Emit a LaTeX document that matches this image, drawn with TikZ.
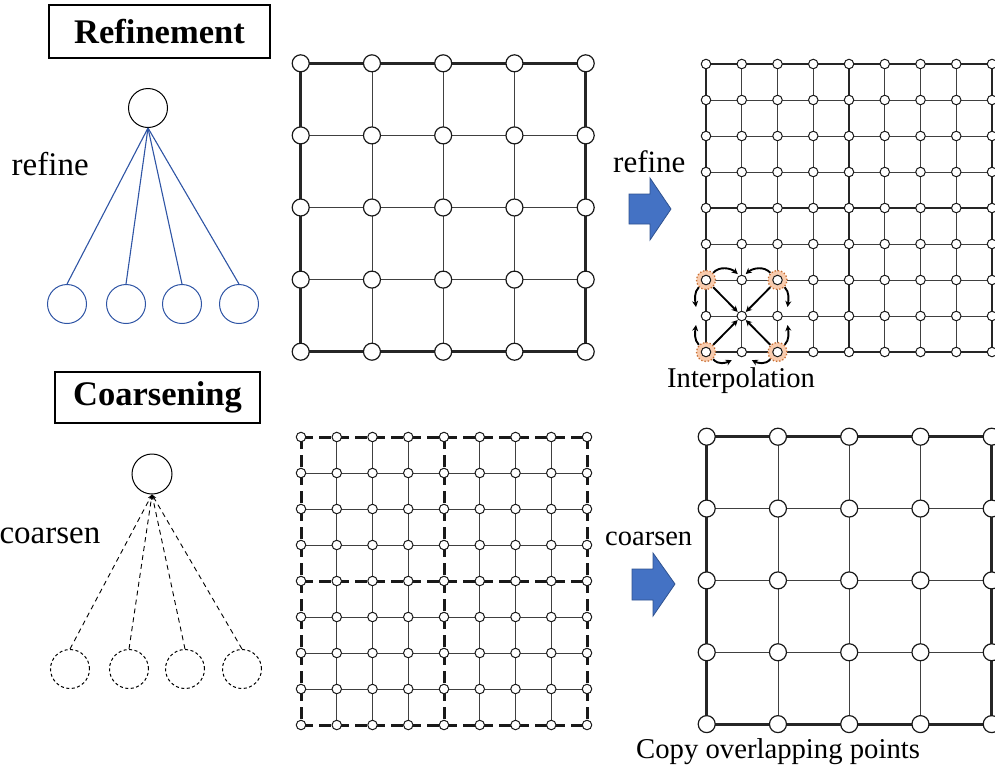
\documentclass[tikz,border=0pt]{standalone}
\usepackage{fontspec}
\setmainfont{Liberation Serif}
\usetikzlibrary{arrows.meta}
\definecolor{treeblue}{RGB}{47,85,165}
\definecolor{arrowfill}{RGB}{68,114,196}
\definecolor{arrowedge}{RGB}{47,82,143}
\definecolor{peach}{RGB}{248,203,173}
\definecolor{orangeedge}{RGB}{200,110,50}
\begin{document}
\begin{tikzpicture}[x=1pt,y=-1pt,
  bignode/.style={circle, draw=black!90, fill=white, line width=1.2pt, minimum size=17pt, inner sep=0pt},
  smallnode/.style={circle, draw=black!90, fill=white, line width=1pt, minimum size=9.5pt, inner sep=0pt},
  thickline/.style={line width=3pt, black!85},
  thinline/.style={line width=0.9pt, black!75},
  finethick/.style={line width=2.4pt, black!85},
  dashthick/.style={line width=3pt, black!90, dash pattern=on 12pt off 6pt},
  treecircle/.style={circle, draw, minimum size=39pt, inner sep=0pt, line width=1pt},
  titlebox/.style={draw, line width=2.5pt, inner sep=0pt, font=\fontsize{34.5}{40}\selectfont\bfseries},
  lbl/.style={inner sep=0pt},
  orangering/.style={circle, fill=peach, draw=orangeedge, dotted, line width=1.3pt, minimum size=19pt, inner sep=0pt},
  interp/.style={line width=1.9pt, black, -{Stealth[length=6pt,width=6pt]}},
  blockarrow/.style={fill=arrowfill, draw=arrowedge, line width=0.8pt}
]
\useasboundingbox (0,0) rectangle (995,772);

% ---------- title boxes ----------
\node[titlebox, minimum width=221pt, minimum height=53pt] (tref) at (159.5,31.5) {Refinement};
\node[titlebox, minimum width=205pt, minimum height=51pt] (tcoa) at (157.5,397.5) {Coarsening};

% ---------- refine tree ----------
\node[treecircle] (r1) at (148,108) {};
\foreach \k/\xx in {1/67,2/126,3/182,4/239}{
  \node[treecircle, draw=treeblue] (b\k) at (\xx,304) {};
  \draw[treeblue, line width=1.1pt] (r1.south) -- (b\k.north);
}
\node[lbl, anchor=base west, font=\fontsize{33}{38}\selectfont] (lref) at (11.5,175) {refine};

% ---------- coarsen tree ----------
\node[treecircle, minimum size=40pt] (r2) at (152,474) {};
\foreach \k/\xx in {1/70,2/129,3/185,4/242}{
  \node[treecircle, dash pattern=on 3pt off 2.5pt] (c\k) at (\xx,669) {};
  \draw[line width=0.9pt, dash pattern=on 5pt off 4pt, -{Stealth[length=5pt,width=4pt]}] (c\k.north) -- (r2.south);
}
\node[lbl, anchor=base east, font=\fontsize{33}{38}\selectfont] (lcoa) at (100.5,543) {coarsen};

% ---------- top middle coarse grid ----------
\foreach \i in {0,...,4}{\foreach \j in {0,...,4}{
  \coordinate (a-\i-\j) at (300.7+71.25*\i, 63.3+72.1*\j);}}
\foreach \j in {1,2,3}{
  \draw[thinline] (a-0-\j) -- (a-4-\j);
  \draw[thinline] (a-\j-0) -- (a-\j-4);}
\draw[thickline] (a-0-0) -- (a-4-0) -- (a-4-4) -- (a-0-4) -- cycle;
\foreach \i in {0,...,4}{\foreach \j in {0,...,4}{
  \node[bignode] (A-\i-\j) at (a-\i-\j) {};}}

% ---------- top right fine grid ----------
\foreach \i in {0,...,8}{\foreach \j in {0,...,8}{
  \coordinate (f-\i-\j) at (706+35.75*\i, 64+36*\j);}}
\foreach \j in {1,2,3,5,6,7}{
  \draw[thinline] (f-0-\j) -- (f-8-\j);
  \draw[thinline] (f-\j-0) -- (f-\j-8);}
\foreach \j in {0,4,8}{
  \draw[finethick] (f-0-\j) -- (f-8-\j);
  \draw[finethick] (f-\j-0) -- (f-\j-8);}
\node[orangering] (O1) at (f-0-6) {};
\node[orangering] (O2) at (f-2-6) {};
\node[orangering] (O3) at (f-0-8) {};
\node[orangering] (O4) at (f-2-8) {};
\foreach \i in {0,...,8}{\foreach \j in {0,...,8}{
  \node[smallnode] (F-\i-\j) at (f-\i-\j) {};}}

% interpolation arrows
\foreach \o in {O1,O2,O3,O4}{
  \draw[interp, shorten >=0.5pt] (\o) -- (F-1-7);}
% top
\draw[interp] (O1.north east) .. controls +(6,-7) and +(-7,-6) .. ([shift={(-4,-6)}]F-1-6.center);
\draw[interp] (O2.north west) .. controls +(-6,-7) and +(7,-6) .. ([shift={(4,-6)}]F-1-6.center);
% bottom
\draw[interp] (O3.south east) .. controls +(5,6) and +(-6,3) .. ([shift={(-10,8)}]F-1-8.center);
\draw[interp] (O4.south west) .. controls +(-5,6) and +(6,3) .. ([shift={(10,8)}]F-1-8.center);
% left
\draw[interp] (O1.south west) .. controls +(-5,5) and +(-1,-7) .. ([shift={(-10,-9)}]F-0-7.center);
\draw[interp] (O3.north west) .. controls +(-5,-5) and +(-1,7) .. ([shift={(-10,9)}]F-0-7.center);
% right
\draw[interp] (O2.south east) .. controls +(5,5) and +(1,-7) .. ([shift={(10,-9)}]F-2-7.center);
\draw[interp] (O4.north east) .. controls +(5,-5) and +(1,7) .. ([shift={(10,9)}]F-2-7.center);

\node[lbl, anchor=base west, font=\fontsize{28.6}{33}\selectfont] (linterp) at (667,387) {Interpolation};

% ---------- bottom middle dashed fine grid ----------
\foreach \i in {0,...,8}{\foreach \j in {0,...,8}{
  \coordinate (d-\i-\j) at (301+35.75*\i, 437+36*\j);}}
\foreach \j in {1,2,3,5,6,7}{
  \draw[thinline] (d-0-\j) -- (d-8-\j);
  \draw[thinline] (d-\j-0) -- (d-\j-8);}
\foreach \j in {0,4,8}{
  \draw[dashthick] (d-0-\j) -- (d-8-\j);
  \draw[dashthick] (d-\j-0) -- (d-\j-8);}
\foreach \i in {0,...,8}{\foreach \j in {0,...,8}{
  \node[smallnode] (D-\i-\j) at (d-\i-\j) {};}}

% ---------- bottom right coarse grid ----------
\foreach \i in {0,...,4}{\foreach \j in {0,...,4}{
  \coordinate (e-\i-\j) at (706.7+71.25*\i, 436.7+71.85*\j);}}
\foreach \j in {1,2,3}{
  \draw[thinline] (e-0-\j) -- (e-4-\j);
  \draw[thinline] (e-\j-0) -- (e-\j-4);}
\draw[thickline] (e-0-0) -- (e-4-0) -- (e-4-4) -- (e-0-4) -- cycle;
\foreach \i in {0,...,4}{\foreach \j in {0,...,4}{
  \node[bignode] (E-\i-\j) at (e-\i-\j) {};}}
\node[lbl, anchor=base west, font=\fontsize{28.7}{33}\selectfont] (lcopy) at (636,758) {Copy overlapping points};

% ---------- block arrows ----------
\draw[blockarrow] (629,194) -- (650,194) -- (650,178) -- (671,209) -- (650,240) -- (650,224) -- (629,224) -- cycle;
\draw[blockarrow] (632,569) -- (653,569) -- (653,553) -- (675,584) -- (653,616) -- (653,600) -- (632,600) -- cycle;
\node[lbl, anchor=base west, font=\fontsize{31}{36}\selectfont] (rref) at (613,172) {refine};
\node[lbl, anchor=base west, font=\fontsize{28.5}{33}\selectfont] (rcoa) at (605,545) {coarsen};
\end{tikzpicture}
\end{document}
